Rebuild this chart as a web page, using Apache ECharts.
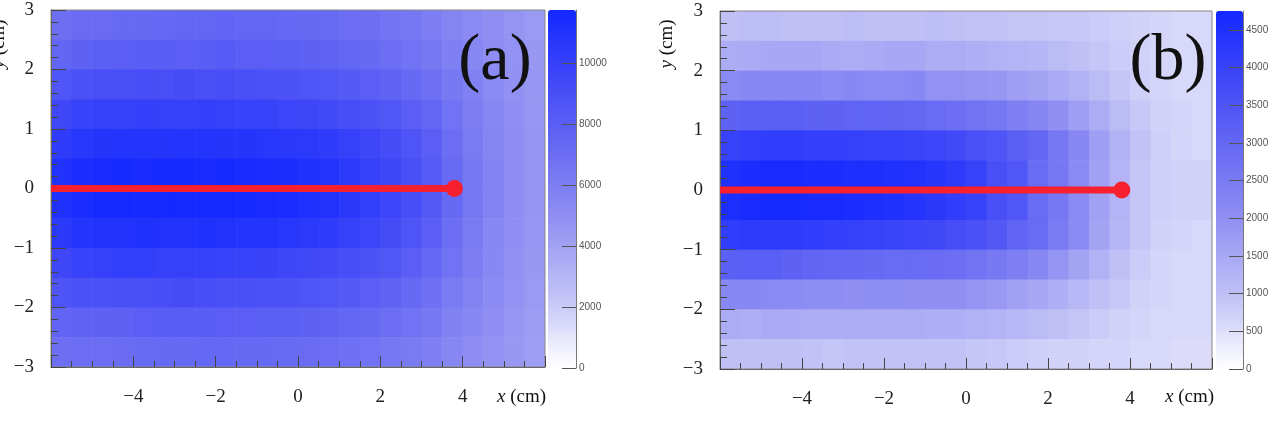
<!DOCTYPE html>
<html lang="en">
<head>
    <meta charset="UTF-8">
    <title>Dose maps (a) and (b)</title>
    <script src="https://cdn.jsdelivr.net/npm/echarts@6.0.0/dist/echarts.min.js"></script>
    <style>
        body { margin: 0; background: #fff; }
    </style>
</head>
<body>
    <div id="main" style="width:1276px;height:424px;"></div>

    <script>
        // bin lower edges (cm); rows go from top (y = 2.5) to bottom (y = -3)
        const xEdges = [-6, -5.5, -5, -4.5, -4, -3.5, -3, -2.5, -2, -1.5, -1, -0.5,
                        0, 0.5, 1, 1.5, 2, 2.5, 3, 3.5, 4, 4.5, 5, 5.5];
        const yEdges = [2.5, 2, 1.5, 1, 0.5, 0, -0.5, -1, -1.5, -2, -2.5, -3];
        const binW = 0.5;
        const binH = 0.5;

        // panel (a) counts per bin
        const countsA = [
            [6900,7100,7100,7300,7300,7400,7500,7500,7600,7500,7500,7400, 7300,7200,7000,6900,6600,6400,6000,5600,5300,5000,4700,4400],
            [7500,7800,7900,8000,8100,8100,8000,8100,8200,8000,8000,7900, 7800,7700,7500,7300,7000,6700,6300,5900,5500,5100,4800,4500],
            [8600,8900,9000,9000,9100,9000,9200,9000,9100,9000,8900,8800, 8700,8500,8300,8000,7700,7300,6800,6300,5800,5300,4900,4600],
            [9500,9900,10000,10000,10100,10000,10000,10100,10000,9900,9900,9700, 9600,9400,9100,8800,8500,8000,7500,6700,6000,5500,5000,4600],
            [10300,10700,10800,10900,10900,10800,10900,10900,10800,10800,10700,10600, 10500,10300,10000,9600,9200,8700,8000,7000,6200,5600,5100,4700],
            [11000,11400,11500,11600,11500,11600,11600,11500,11600,11500,11400,11300, 11100,10900,10500,10000,9600,9000,8200,7200,6300,5700,5100,4700],
            [11100,11400,11600,11700,11600,11700,11700,11600,11700,11600,11500,11400, 11200,11000,10600,10200,9700,9100,8300,7300,6400,5700,5100,4700],
            [10500,10900,11000,11000,11100,11000,11000,11100,11000,10900,10900,10700, 10500,10300,10000,9700,9200,8700,8000,7000,6200,5500,5000,4600],
            [9600,9900,10000,10200,10200,10000,10000,10000,9900,9900,9800,9600, 9500,9300,9100,8800,8500,8000,7400,6700,6000,5400,4900,4500],
            [8700,8900,8900,9000,9000,9100,9200,9100,9000,9000,8900,8800, 8700,8500,8300,8000,7700,7300,6800,6200,5700,5200,4800,4400],
            [7600,7700,7800,7800,8000,8100,8100,8100,8000,8000,7900,7900, 7800,7700,7500,7300,7000,6700,6300,5800,5400,5000,4600,4300],
            [6900,7000,7000,7100,7200,7300,7300,7400,7400,7300,7300,7200, 7100,7000,6800,6700,6400,6200,5900,5500,5100,4800,4500,4200]
        ];

        // panel (b) counts per bin
        const countsB = [
            [1000,1050,1050,1000,1000,1000,1050,1000,1000,1000,1050,1000, 950,950,900,900,850,850,800,750,700,650,600,600],
            [1400,1450,1500,1500,1500,1450,1400,1450,1500,1500,1400,1400, 1350,1300,1250,1200,1100,1000,900,800,700,650,600,600],
            [2150,2200,2200,2200,2200,2100,2200,2100,2100,2200,1950,1950, 1900,1850,1700,1600,1450,1300,1100,900,750,650,600,600],
            [3150,3200,3200,3200,3150,3150,3100,3100,3050,3000,2900,2800, 2700,2600,2400,2250,2000,1700,1400,1100,850,700,650,600],
            [4000,4100,4150,4150,4100,4100,4050,4000,4000,3950,3900,3800, 3600,3500,3200,3000,2600,2200,1700,1300,950,750,650,600],
            [4500,4600,4650,4650,4600,4600,4550,4550,4500,4450,4350,4200, 4000,3650,3450,2900,2600,2100,1650,1250,900,750,700,700],
            [4550,4650,4700,4700,4650,4650,4600,4550,4500,4400,4300,4150, 4000,3650,3450,2900,2600,2100,1650,1250,900,750,700,700],
            [4150,4200,4200,4200,4150,4100,4050,4000,3950,3900,3850,3700, 3600,3400,3100,2900,2500,2100,1600,1200,900,700,650,600],
            [3200,3250,3250,3150,3050,3000,3000,2950,2900,2900,2850,2800, 2700,2550,2400,2200,1900,1600,1300,1000,800,650,600,600],
            [2200,2200,2150,2100,2050,2050,2000,2050,2050,2000,2000,2000, 1900,1800,1650,1500,1350,1150,1000,850,700,650,600,600],
            [1400,1350,1450,1450,1400,1400,1400,1400,1400,1400,1350,1350, 1300,1250,1150,1100,1000,900,800,700,650,600,600,600],
            [1000,1000,1000,1000,950,900,950,950,950,950,950,950, 900,850,800,750,700,700,650,650,600,600,550,550]
        ];

        const maxA = 11740;
        const maxB = 4750;
        const colorTicksA = [0, 2000, 4000, 6000, 8000, 10000];
        const colorTicksB = [0, 500, 1000, 1500, 2000, 2500, 3000, 3500, 4000, 4500];

        // red track: start and end point
        const beamX = [-6, 3.8];
        const beamY = [0, 0];

        const palette = ['#ffffff', '#c2c2f7', '#9494f3', '#6a6df3', '#4249f7', '#1228ff'];
        const serif = 'Liberation Serif';

        function toCells(counts) {
            const out = [];
            counts.forEach(function (row, r) {
                row.forEach(function (v, c) {
                    out.push([xEdges[c], yEdges[r], v]);
                });
            });
            return out;
        }

        function renderCell(params, api) {
            const x0 = api.value(0);
            const y0 = api.value(1);
            const p0 = api.coord([x0, y0 + binH]);
            const p1 = api.coord([x0 + binW, y0]);
            return {
                type: 'rect',
                shape: { x: p0[0], y: p0[1], width: p1[0] - p0[0] + 0.6, height: p1[1] - p0[1] + 0.6 },
                style: { fill: api.visual('color') }
            };
        }

        function minus(v) {
            return String(v).replace('-', '\u2212');
        }

        function xAxisOf(idx) {
            return {
                gridIndex: idx, type: 'value', min: -6, max: 6, interval: 2, z: 5,
                axisLine: { show: true, onZero: false, lineStyle: { color: '#666', width: 1 } },
                axisTick: { inside: true, length: 11, lineStyle: { color: '#444' } },
                minorTick: { show: true, splitNumber: 4, length: 6, lineStyle: { color: '#444' } },
                axisLabel: { formatter: minus, fontSize: 19, fontFamily: serif, color: '#222', margin: 21,
                             showMinLabel: false, showMaxLabel: false },
                splitLine: { show: false }
            };
        }
        function yAxisOf(idx) {
            return {
                gridIndex: idx, type: 'value', min: -3, max: 3, interval: 1, z: 5,
                axisLine: { show: true, onZero: false, lineStyle: { color: '#666', width: 1 } },
                axisTick: { inside: true, length: 15, lineStyle: { color: '#444' } },
                minorTick: { show: true, splitNumber: 5, length: 7, lineStyle: { color: '#444' } },
                axisLabel: { formatter: minus, fontSize: 19, fontFamily: serif, color: '#222', margin: 17 },
                splitLine: { show: false }
            };
        }
        function barAxisOf(idx, max, ticks) {
            return {
                gridIndex: idx, type: 'value', position: 'right', min: 0, max: max, z: 5,
                axisLine: { show: true, onZero: false, lineStyle: { color: '#777', width: 1 } },
                axisTick: { inside: true, length: 14, customValues: ticks, lineStyle: { color: '#555' } },
                axisLabel: { customValues: ticks, formatter: function (v) { return String(v); },
                             fontSize: 10, fontFamily: 'Liberation Sans', color: '#555', margin: 3 },
                splitLine: { show: false }
            };
        }
        function beamSeries(idx) {
            return {
                type: 'line', xAxisIndex: idx, yAxisIndex: idx, z: 6,
                data: [
                    { value: [beamX[0], beamY[0]], symbol: 'none' },
                    { value: [beamX[1], beamY[1]], symbol: 'circle', symbolSize: 17 }
                ],
                lineStyle: { color: '#f7202f', width: 7 },
                itemStyle: { color: '#f7202f' },
                silent: true
            };
        }
        function textLabel(x, y, text, size, align, rot) {
            return {
                type: 'text', x: x, y: y, rotation: rot || 0, z: 20,
                style: {
                    text: text, fill: '#111', fontSize: size, fontFamily: serif,
                    align: align, verticalAlign: 'middle',
                    rich: { i: { fontStyle: 'italic', fontSize: size, fontFamily: serif, fill: '#111' } }
                }
            };
        }

        const option = {
            backgroundColor: '#fff',
            animation: false,
            grid: [
                { left: 51, top: 10, width: 494, height: 357, show: true, z: 5, borderColor: '#888', borderWidth: 1, backgroundColor: 'transparent' },
                { left: 720, top: 11, width: 492, height: 358, show: true, z: 5, borderColor: '#888', borderWidth: 1, backgroundColor: 'transparent' },
                { left: 548, top: 10, width: 28, height: 358 },
                { left: 1216, top: 11, width: 27, height: 358 }
            ],
            xAxis: [
                xAxisOf(0), xAxisOf(1),
                { gridIndex: 2, type: 'value', show: false },
                { gridIndex: 3, type: 'value', show: false }
            ],
            yAxis: [
                yAxisOf(0), yAxisOf(1),
                barAxisOf(2, maxA, colorTicksA),
                barAxisOf(3, maxB, colorTicksB)
            ],
            visualMap: [
                { type: 'continuous', seriesIndex: 0, dimension: 2, min: 0, max: maxA, calculable: false,
                  left: 548, top: 10, itemWidth: 28, itemHeight: 358, padding: 0,
                  inRange: { color: palette } },
                { type: 'continuous', seriesIndex: 1, dimension: 2, min: 0, max: maxB, calculable: false,
                  left: 1216, top: 11, itemWidth: 27, itemHeight: 358, padding: 0,
                  inRange: { color: palette } }
            ],
            graphic: [
                textLabel(-1, 44, '{i|y} (cm)', 19, 'center', Math.PI / 2),
                textLabel(667, 44, '{i|y} (cm)', 19, 'center', Math.PI / 2),
                textLabel(546, 397, '{i|x} (cm)', 19, 'right'),
                textLabel(1214, 397, '{i|x} (cm)', 19, 'right'),
                textLabel(495, 62, '(a)', 66, 'center'),
                textLabel(1168, 62, '(b)', 66, 'center')
            ],
            series: [
                { type: 'custom', name: 'a', xAxisIndex: 0, yAxisIndex: 0, z: 2, clip: true,
                  dimensions: ['x', 'y', 'count'], encode: { x: 0, y: 1 },
                  renderItem: renderCell, data: toCells(countsA) },
                { type: 'custom', name: 'b', xAxisIndex: 1, yAxisIndex: 1, z: 2, clip: true,
                  dimensions: ['x', 'y', 'count'], encode: { x: 0, y: 1 },
                  renderItem: renderCell, data: toCells(countsB) },
                beamSeries(0),
                beamSeries(1)
            ]
        };

        var myChart = echarts.init(document.getElementById('main'));
        myChart.setOption(option);
    </script>
</body>
</html>
